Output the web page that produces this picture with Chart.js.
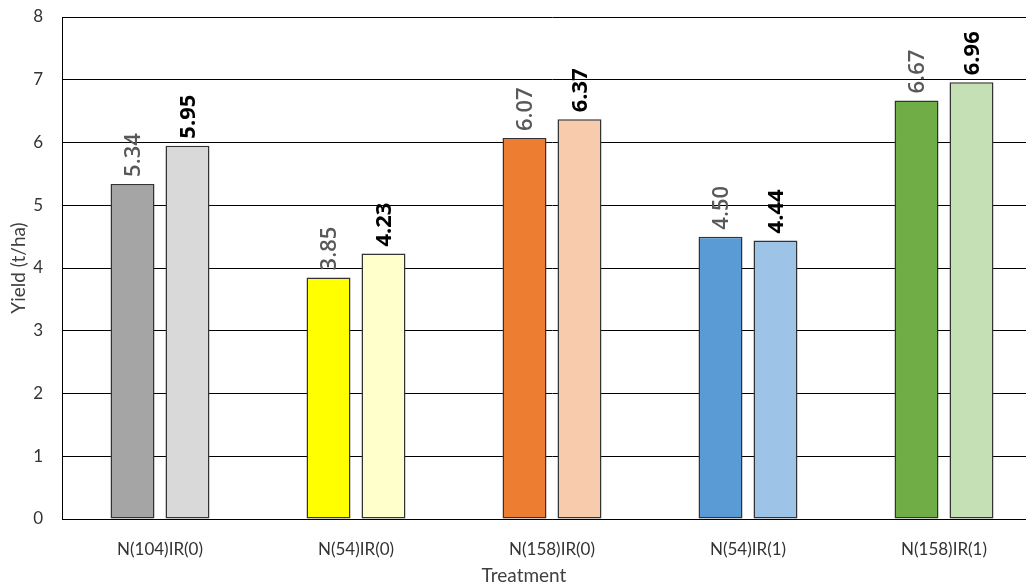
<!DOCTYPE html>
<html>
<head>
<meta charset="utf-8">
<script src="https://cdn.jsdelivr.net/npm/chart.js@4/dist/chart.umd.min.js"></script>
<style>
html,body{margin:0;padding:0;background:#fff;overflow:hidden;}
#wrap{width:1042px;height:586px;position:relative;}
</style>
</head>
<body>
<div id="wrap"><canvas id="c"></canvas></div>
<script>
const categories = ['N(104)IR(0)', 'N(54)IR(0)', 'N(158)IR(0)', 'N(54)IR(1)', 'N(158)IR(1)'];
const seriesA = [5.34, 3.85, 6.07, 4.50, 6.67];
const seriesB = [5.95, 4.23, 6.37, 4.44, 6.96];
const colorsA = ['#a5a5a5', '#ffff00', '#ed7d31', '#5b9bd5', '#70ad47'];
const colorsB = ['#d9d9d9', '#ffffcc', '#f8cbad', '#9dc3e6', '#c5e0b4'];
const yTicks = [0, 1, 2, 3, 4, 5, 6, 7, 8];
const xTitle = 'Treatment';
const yTitle = 'Yield (t/ha)';

const FONT = 'Lato, "Open Sans", sans-serif';
const LABEL_FONT = '"Open Sans", Lato, sans-serif';

const labelPlugin = {
  id: 'barLabels',
  afterDatasetsDraw(chart) {
    const ctx = chart.ctx;
    chart.data.datasets.forEach((ds, di) => {
      const meta = chart.getDatasetMeta(di);
      meta.data.forEach((bar, i) => {
        const v = ds.data[i];
        ctx.save();
        ctx.translate(bar.x + 1, bar.y - 7);
        ctx.rotate(-Math.PI / 2);
        ctx.textAlign = 'left';
        ctx.textBaseline = 'middle';
        ctx.font = (di === 1 ? 'bold ' : '600 ') + '22px ' + LABEL_FONT;
        ctx.fillStyle = di === 1 ? '#000000' : '#595959';
        ctx.fillText(v.toFixed(2), 0, 0);
        ctx.restore();
      });
    });
    // x axis title
    ctx.save();
    ctx.font = '19px ' + FONT;
    ctx.fillStyle = '#404040';
    ctx.textAlign = 'center';
    ctx.textBaseline = 'middle';
    ctx.fillText(xTitle, 524, 576);
    ctx.restore();
  }
};

new Chart(document.getElementById('c'), {
  type: 'bar',
  data: {
    labels: categories,
    datasets: [
      { data: seriesA, backgroundColor: colorsA, borderColor: '#333333', borderWidth: 1.5, borderSkipped: false },
      { data: seriesB, backgroundColor: colorsB, borderColor: '#333333', borderWidth: 1.5, borderSkipped: false }
    ]
  },
  options: {
    responsive: true,
    maintainAspectRatio: false,
    animation: false,
    categoryPercentage: 0.561,
    barPercentage: 0.8,
    layout: { padding: { top: 17, right: 0, left: 0, bottom: 0 } },
    plugins: { legend: { display: false }, tooltip: { enabled: false } },
    scales: {
      x: {
        grid: { display: false, drawTicks: false },
        border: { display: true, color: '#000', width: 1 },
        ticks: { color: '#333333', font: { family: FONT, size: 17 }, padding: 20 },
        afterFit(scale) { scale.height = 67; scale.paddingLeft = 0; scale.paddingRight = 0; }
      },
      y: {
        min: 0, max: 8,
        afterBuildTicks(axis) { axis.ticks = yTicks.map(v => ({ value: v })); },
        grid: { color: '#000', lineWidth: 1, drawTicks: false },
        border: { display: true, color: '#000', width: 1 },
        ticks: { color: '#333333', font: { family: FONT, size: 17 }, padding: 19 },
        title: { display: true, text: yTitle, color: '#404040', font: { family: FONT, size: 19 }, padding: { top: 7, bottom: 0 } },
        afterFit(scale) { scale.width = 62; scale.paddingTop = 0; scale.paddingBottom = 0; }
      }
    }
  },
  plugins: [labelPlugin]
});
</script>
</body>
</html>
